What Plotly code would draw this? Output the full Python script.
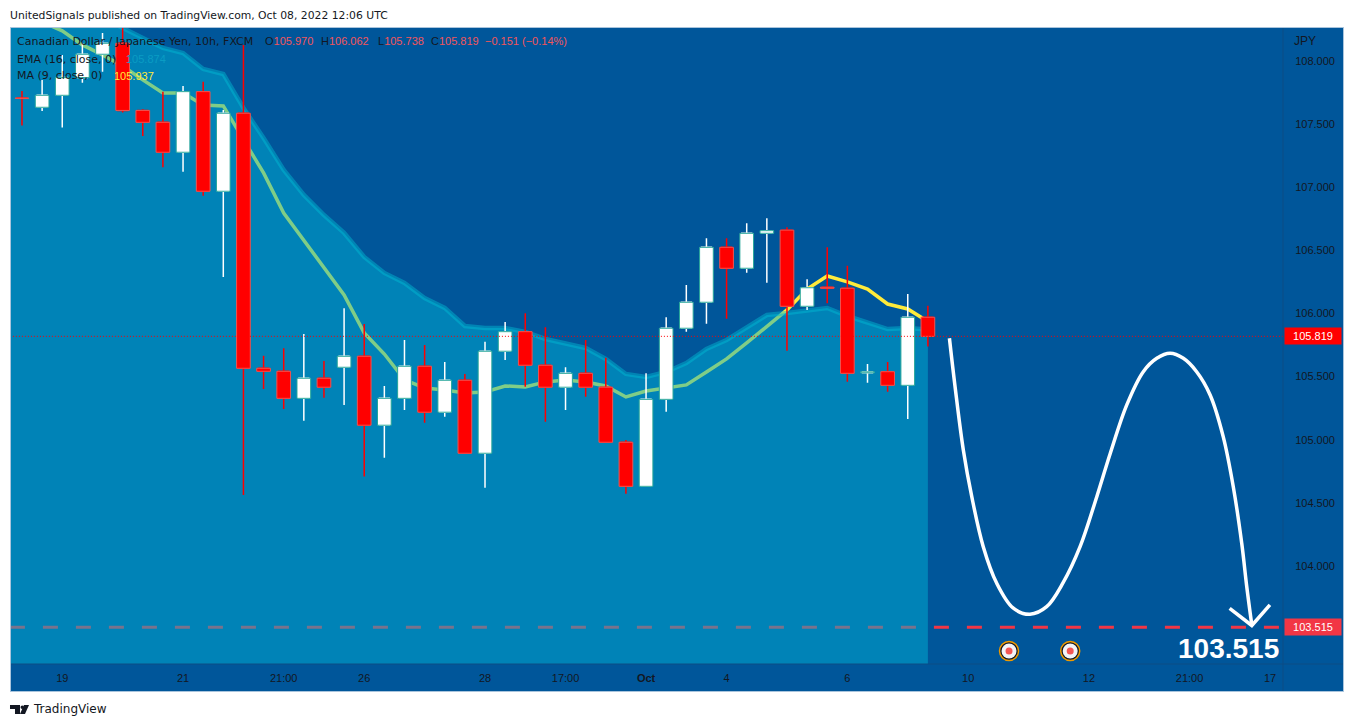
# CAD/JPY 10h chart with drawn projection
import plotly.graph_objects as go

W, H = 1354, 727
# plot box inside the page, pixels
LEFT, RIGHT, TOP, BOTTOM = 11, 1283, 28, 664

BG = '#00569a'
TEXT = '#131722'
FONT = 'DejaVu Sans'
NUM_FONT = 'Liberation Sans'

# ohlc
opens = [107.706, 107.633, 107.728, 107.868, 108.053, 108.140, 107.608, 107.514, 107.277, 107.757,
         106.968, 107.586, 105.566, 105.542, 105.328, 105.487, 105.574, 105.661, 105.115, 105.328,
         105.582, 105.218, 105.471, 104.893, 105.701, 105.856, 105.590, 105.416, 105.526, 105.416,
         104.980, 104.631, 105.320, 105.883, 106.089, 106.524, 106.358, 106.635, 106.660, 106.057,
         106.208, 106.200, 105.530, 105.539, 105.431, 105.970]
highs = [107.762, 107.850, 108.048, 108.143, 108.222, 108.300, 107.617, 107.757, 107.802, 107.836,
         107.612, 108.127, 105.666, 105.725, 105.838, 105.624, 106.041, 105.917, 105.426, 105.790,
         105.751, 105.616, 105.521, 105.777, 105.933, 106.002, 105.891, 105.574, 105.790, 105.650,
         104.998, 105.526, 105.970, 106.226, 106.596, 106.596, 106.714, 106.754, 106.683, 106.271,
         106.524, 106.379, 105.600, 105.616, 106.154, 106.062]
lows = [107.488, 107.604, 107.472, 107.828, 107.915, 107.591, 107.406, 107.158, 107.123, 106.933,
        106.289, 104.563, 105.402, 105.244, 105.151, 105.333, 105.276, 104.708, 104.858, 105.236,
        105.135, 105.183, 104.893, 104.620, 105.632, 105.420, 105.143, 105.236, 105.341, 104.980,
        104.573, 104.631, 105.222, 105.856, 105.919, 105.959, 106.323, 106.244, 105.705, 106.028,
        106.081, 105.460, 105.452, 105.381, 105.164, 105.738]
closes = [107.704, 107.728, 107.868, 108.053, 108.140, 107.608, 107.514, 107.277, 107.757, 106.968,
          107.586, 105.566, 105.542, 105.328, 105.487, 105.416, 105.661, 105.115, 105.328, 105.582,
          105.218, 105.471, 104.893, 105.701, 105.856, 105.590, 105.416, 105.526, 105.416, 104.980,
          104.631, 105.320, 105.883, 106.089, 106.524, 106.358, 106.635, 106.656, 106.057, 106.204,
          106.200, 105.526, 105.538, 105.431, 105.970, 105.819]

ma9 = [108.388, 108.309, 108.238, 108.127, 108.048, 107.960, 107.850, 107.747, 107.747, 107.652,
       107.644, 107.374, 107.113, 106.796, 106.582, 106.361, 106.147, 105.846, 105.679, 105.474,
       105.410, 105.394, 105.371, 105.379, 105.426, 105.418, 105.458, 105.474, 105.458, 105.426,
       105.339, 105.386, 105.410, 105.434, 105.537, 105.640, 105.767, 105.901, 106.028, 106.194,
       106.297, 106.250, 106.194, 106.075, 106.036, 105.937]
# starts one bar earlier so the fill reaches the left edge
ema16 = [108.737, 108.657, 108.578, 108.499, 108.420, 108.341, 108.261, 108.182, 108.103, 108.063,
         107.937, 107.897, 107.628, 107.390, 107.137, 106.939, 106.780, 106.638, 106.448, 106.321,
         106.242, 106.123, 106.044, 105.901, 105.885, 105.885, 105.854, 105.798, 105.767, 105.727,
         105.640, 105.521, 105.497, 105.537, 105.608, 105.719, 105.790, 105.893, 105.988, 106.004,
         106.028, 106.044, 105.980, 105.925, 105.877, 105.885, 105.874]

# hand drawn projection, in bar index and price
curve_x = [46.07, 46.35, 46.76, 47.18, 47.75, 48.42, 49.23, 50.07, 50.90, 51.71, 52.56, 53.39, 54.05,
           54.88, 55.70, 56.37, 57.03, 57.69, 58.35, 59.02, 59.67, 60.17, 60.59, 60.84, 61.09]
curve_y = [105.804, 105.420, 104.919, 104.549, 104.153, 103.863, 103.668, 103.618, 103.678, 103.866,
           104.153, 104.549, 104.887, 105.276, 105.539, 105.645, 105.685, 105.645, 105.539, 105.355,
           105.025, 104.628, 104.180, 103.836, 103.533]
arrow_x = [59.99, 61.09, 61.99]
arrow_y = [103.665, 103.529, 103.692]

event_x = [49.03, 52.07]
event_y = [103.327, 103.327]

target_price = 103.515
last_close = 105.819

y_ticks = [104.0, 104.5, 105.0, 105.5, 106.0, 106.5, 107.0, 107.5, 108.0]
x_ticks = [2, 8, 13, 17, 23, 27, 31, 35, 41, 47, 53, 58, 62]
x_labels = ['19', '21', '21:00', '26', '28', '17:00', '<b>Oct</b>', '4', '6', '10', '12', '21:00', '17']

bars = list(range(len(opens)))
line_x = [-0.6, 63]
y_range = [103.224, 108.261]


def px_x(x):
    return (x - LEFT) / (RIGHT - LEFT)


def px_y(y):
    return (BOTTOM - y) / (BOTTOM - TOP)


fig = go.Figure()

# yellow line and target dash sit under the translucent ema fill
fig.add_trace(go.Scatter(x=bars, y=ma9, mode='lines', line=dict(color='#ffeb3b', width=3.5)))
fig.add_trace(go.Scatter(x=line_x, y=[target_price, target_price], mode='lines',
                         line=dict(color='#f23645', width=3, dash='15px,18px')))
fig.add_trace(go.Scatter(x=[-1] + bars, y=ema16, mode='lines', fill='tozeroy',
                         fillcolor='rgba(0,176,212,0.5)',
                         line=dict(color='rgba(0,188,212,0.45)', width=4.5)))

# wicks, on an overlaid axis so they cover the lines
fig.add_trace(go.Candlestick(x=bars, open=opens, high=highs, low=lows, close=closes, yaxis='y2',
                             whiskerwidth=0, line_width=1.5,
                             increasing=dict(line_color='#ffffff', fillcolor='#ffffff'),
                             decreasing=dict(line_color='#ff0000', fillcolor='#ff0000')))

# bodies have a border colour of their own
is_up = [c >= o for o, c in zip(opens, closes)]
fig.add_trace(go.Bar(x=bars, base=[min(o, c) for o, c in zip(opens, closes)],
                     y=[abs(o - c) for o, c in zip(opens, closes)], yaxis='y3', width=0.68,
                     marker=dict(color=['#ffffff' if u else '#ff0000' for u in is_up],
                                 line=dict(color=['#26a69a' if u else '#ef5350' for u in is_up], width=1))))

fig.add_trace(go.Scatter(x=line_x, y=[last_close, last_close], yaxis='y3', mode='lines',
                         line=dict(color='#ff0000', width=1, dash='1px,2px')))
fig.add_trace(go.Scatter(x=curve_x, y=curve_y, yaxis='y3', mode='lines',
                         line=dict(color='#ffffff', width=3.5, shape='spline', smoothing=1.0)))
fig.add_trace(go.Scatter(x=arrow_x, y=arrow_y, yaxis='y3', mode='lines',
                         line=dict(color='#ffffff', width=3.5)))

# event badges
fig.add_trace(go.Scatter(x=event_x, y=event_y, yaxis='y3', mode='markers',
                         marker=dict(size=19, color='#131722', line=dict(color='#f09a00', width=1.5))))
fig.add_trace(go.Scatter(x=event_x, y=event_y, yaxis='y3', mode='markers',
                         marker=dict(size=15, color='#f3f4f8')))
fig.add_trace(go.Scatter(x=event_x, y=event_y, yaxis='y3', mode='markers',
                         marker=dict(size=7, color='#f45656')))


def add_text(x, y, text, color=TEXT, size=11, font=FONT, anchor='left'):
    fig.add_annotation(text=text, xref='paper', yref='paper', x=px_x(x), y=px_y(y), xanchor=anchor,
                       yanchor='middle', showarrow=False, font=dict(family=font, size=size, color=color))


def add_price_box(value, color):
    fig.add_annotation(text=f'{value:.3f}', xref='paper', yref='y', x=px_x(1283.5), y=value, xanchor='left',
                       yanchor='middle', showarrow=False, width=56, height=16, align='center',
                       bgcolor=color, borderpad=0, font=dict(family=NUM_FONT, size=11, color='#ffffff'))


RED = '#f2555a'
add_text(8, 15, 'UnitedSignals published on TradingView.com, Oct 08, 2022 12:06 UTC', size=10.8)
add_text(15, 41, 'Canadian Dollar / Japanese Yen, 10h, FXCM')
add_text(263, 41, f'O<span style="color:{RED}">105.970</span>', font=NUM_FONT)
add_text(319, 41, f'H<span style="color:{RED}">106.062</span>', font=NUM_FONT)
add_text(376, 41, f'L<span style="color:{RED}">105.738</span>', font=NUM_FONT)
add_text(429, 41, f'C<span style="color:{RED}">105.819</span>', font=NUM_FONT)
add_text(483, 41, '−0.151 (−0.14%)', color=RED, font=NUM_FONT)
add_text(15, 59, 'EMA (16, close, 0)')
add_text(124, 59, '105.874', color='#0a9cc4', font=NUM_FONT)
add_text(15, 76, 'MA (9, close, 0)')
add_text(112, 76, '105.937', color='#ffeb3b', font=NUM_FONT)
add_text(1292, 41, 'JPY', size=12, font=NUM_FONT)
add_text(1281, 648, '<b>103.515</b>', color='#ffffff', size=28, font=NUM_FONT, anchor='right')
add_text(31, 709, 'TradingView', size=12)
add_price_box(last_close, '#ff0000')
add_price_box(target_price, '#f23645')

shapes = [
    # whole chart panel with its pale frame
    dict(type='rect', xref='paper', yref='paper', layer='below', x0=px_x(10.5), x1=px_x(1343.5),
         y0=px_y(691.5), y1=px_y(27.5), fillcolor=BG, line=dict(color='#a9c4dc', width=1)),
    dict(type='line', xref='paper', yref='paper', x0=px_x(1283), x1=px_x(1283), y0=px_y(691), y1=px_y(28),
         line=dict(color='#0c4c84', width=1)),
    dict(type='line', xref='paper', yref='paper', x0=px_x(11), x1=px_x(1343), y0=px_y(664), y1=px_y(664),
         line=dict(color='#0c4c84', width=1)),
]
# tradingview logo
logo = [[(10, 705), (20, 705), (20, 714), (15, 714), (15, 709), (10, 709)],
        [(24, 705), (29, 705), (25, 714), (20, 714)]]
for pts in logo:
    path = 'M ' + ' L '.join(f'{px_x(a):.5f} {px_y(b):.5f}' for a, b in pts) + ' Z'
    shapes.append(dict(type='path', xref='paper', yref='paper', path=path, fillcolor=TEXT, line_width=0))
shapes.append(dict(type='circle', xref='paper', yref='paper', x0=px_x(20.5), x1=px_x(24), y0=px_y(709), y1=px_y(705.5),
                   fillcolor=TEXT, line_width=0))

fig.update_layout(
    width=W, height=H, autosize=False,
    margin=dict(l=LEFT, r=W - RIGHT, t=TOP, b=H - BOTTOM, pad=0),
    paper_bgcolor='#ffffff', plot_bgcolor=BG,
    showlegend=False, hovermode=False, barmode='overlay',
    font=dict(family=NUM_FONT, size=11, color=TEXT),
    shapes=shapes,
    xaxis=dict(range=[-0.546, 62.64], rangeslider_visible=False, showgrid=False, zeroline=False,
               tickmode='array', tickvals=x_ticks, ticktext=x_labels, ticks='outside', ticklen=4,
               tickcolor='rgba(0,0,0,0)', tickangle=0),
    yaxis=dict(range=y_range, side='right', showgrid=False, zeroline=False, tickmode='array',
               tickvals=y_ticks, ticktext=[f'{v:.3f}' for v in y_ticks], ticks='outside', ticklen=9,
               tickcolor='rgba(0,0,0,0)'),
    yaxis2=dict(range=y_range, overlaying='y', visible=False),
    yaxis3=dict(range=y_range, overlaying='y', visible=False),
)

# page body margin would push the chart 8px off
fig.write_html("out.html", config=dict(displayModeBar=False),
               post_script="document.body.style.margin='0';document.body.style.overflow='hidden';")
